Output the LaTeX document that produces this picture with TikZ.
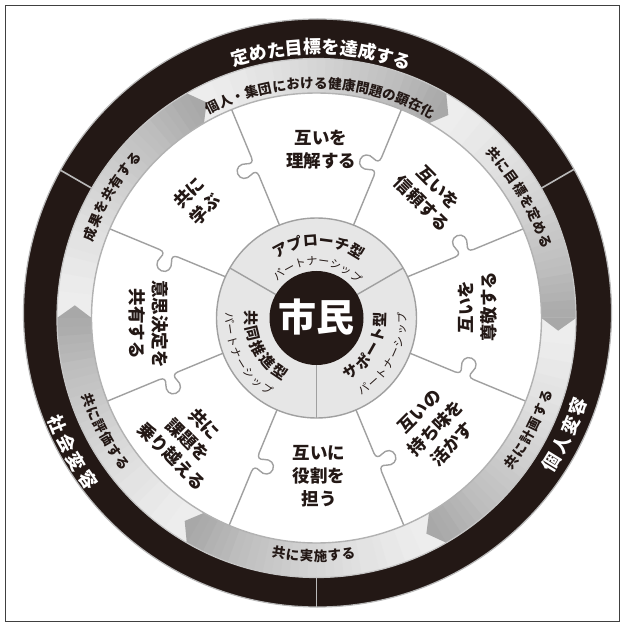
\documentclass[tikz,border=0pt]{standalone}
\usepackage{fontspec}
\setmainfont{Noto Sans CJK JP}
\definecolor{ink}{HTML}{231815}
\definecolor{divgray}{HTML}{A0A0A0}
\definecolor{diskgray}{HTML}{E6E6E6}
% characters set one by one along an arc: #1 centre angle, #2 radius of glyph centres,
% #3 advance per char, #4 number of chars, #5 style, #6 name prefix, #7 char list
\newcommand\cwchars[7]{%
  \foreach \ch [count=\j] in {#7}{%
    \pgfmathsetmacro\ang{#1-(#3/#2*180/pi)*(\j-(#4+1)/2)}%
    \node[#5,rotate=\ang-90] (#6-\j) at (\ang:#2) {\ch};}}
\newcommand\ccwchars[7]{%
  \foreach \ch [count=\j] in {#7}{%
    \pgfmathsetmacro\ang{#1+(#3/#2*180/pi)*(\j-(#4+1)/2)}%
    \node[#5,rotate=\ang+90] (#6-\j) at (\ang:#2) {\ch};}}
\newcommand\piecediv[1]{%
  \draw[divline,shift={(0,3.5)},rotate=#1] (90,0) -- (150,0) .. controls (155,0) and (156,3) .. (154,7)
    .. controls (151,13) and (154,19) .. (160,19) .. controls (166,19) and (169,13) .. (166,7)
    .. controls (164,3) and (165,0) .. (170,0) -- (232,0);}
\begin{document}
\begin{tikzpicture}[x=1pt,y=1pt,
  divline/.style={draw=divgray,line width=1.4pt,line join=round},
  piecetext/.style={font=\bfseries\fontsize{17.5}{23}\selectfont,align=center,inner sep=0pt,text=ink},
  ringchar/.style={text=white,font=\bfseries\fontsize{18}{18}\selectfont,inner sep=0pt,text height=15.8pt,text depth=2.2pt},
  bandchar/.style={text=ink,font=\bfseries\fontsize{13.5}{13.5}\selectfont,inner sep=0pt,text height=11.9pt,text depth=1.6pt},
  sectbold/.style={text=ink,font=\bfseries\fontsize{15}{15}\selectfont,inner sep=0pt,text height=13.2pt,text depth=1.8pt},
  sectreg/.style={text=ink,font=\fontsize{11}{11}\selectfont,inner sep=0pt,text height=9.7pt,text depth=1.3pt}]
\useasboundingbox (-316.5,-308) rectangle (307.5,318);
\fill[white] (-316.5,-308) rectangle (307.5,318);
\draw[black!75,line width=0.8pt] (-311.5,313) rectangle (302.5,-303);
% outer black ring
\coordinate (oc) at (1,5);
\fill[ink] (oc) circle[radius=294];
\draw[gray!55,line width=1.2pt] (oc) circle[radius=294];
\fill[white] (0,0) circle[radius=259.5];
% puzzle dividers
\foreach \a in {22.5,67.5,...,337.5} \piecediv{\a};
% arrow band slices
\foreach \k in {0,...,5}{
  \foreach \i in {0,...,29}{
    \pgfmathsetmacro\a{60*\k+60-2*\i}
    \pgfmathsetmacro\b{\a-2.15}
    \pgfmathtruncatemacro\c{7+27*((\i+0.5)/30)^1.5}
    \fill[black!\c] (\a:225) arc[start angle=\a,end angle=\b,radius=225]
      -- (\b:259.5) arc[start angle=\b,end angle=\a,radius=259.5] -- cycle;
  }
}
\foreach \k in {0,...,5}{
  \fill[black!34] (60*\k:225) -- (60*\k-3:242) -- (60*\k:259.5) -- cycle;
}
\draw[gray!45,line width=1.2pt] (0,0) circle[radius=259.5];
\draw[gray!60,line width=1.4pt] (0,0) circle[radius=225];
\begin{scope}
  \clip (oc) circle[radius=294];
  \foreach \a in {30,150,270} \draw[gray!55,line width=1.6pt] (\a:259.5) -- (\a:305);
\end{scope}
% centre disk
\fill[diskgray] (0,0) circle[radius=100];
\draw[divgray,line width=1.4pt] (0,0) circle[radius=100];
\foreach \a in {30,150,270} \draw[divline] (\a:47) -- (\a:100);
\fill[ink] (0,0) circle[radius=47];
\node[text=white,font=\bfseries\fontsize{38}{38}\selectfont,inner sep=0pt] (shimin) at (0,1) {市民};
% piece texts
\node[piecetext] (p1) at (4.5,168) {互いを\\理解する};
\node[piecetext,rotate=-45] (p2) at (113.5,122) {互いを\\信頼する};
\node[piecetext,rotate=90] (p3) at (161.5,11) {互いを\\尊敬する};
\node[piecetext,rotate=45] (p4) at (119.5,-110) {互いの\\持ち味を\\活かす};
\node[piecetext] (p5) at (2.5,-158) {互いに\\役割を\\担う};
\node[piecetext,rotate=-45] (p6) at (-128.5,-122) {共に\\課題を\\乗り越える};
\node[piecetext,rotate=-90] (p7) at (-167.5,-6) {意思決定を\\共有する};
\node[piecetext,rotate=45] (p8) at (-119.5,117) {共に\\学ぶ};
% black ring texts
\cwchars{88.9}{271}{18.3}{10}{ringchar}{ta}{定,め,た,目,標,を,達,成,す,る}
\ccwchars{-25.1}{276}{20.5}{4}{ringchar}{tb}{個,人,変,容}
\ccwchars{208.8}{280}{21}{4}{ringchar}{tc}{社,会,変,容}
% band texts
\cwchars{88.9}{235}{14}{17}{bandchar}{ba}{個,人,・,集,団,に,お,け,る,健,康,問,題,の,顕,在,化}
\cwchars{30.6}{241}{14.6}{8}{bandchar}{bb}{共,に,目,標,を,定,め,る}
\cwchars{149.3}{242}{14.6}{7}{bandchar}{bc}{成,果,を,共,有,す,る}
\ccwchars{-27.7}{242}{14.8}{6}{bandchar}{bd}{共,に,計,画,す,る}
\ccwchars{-90.7}{238}{14}{6}{bandchar}{be}{共,に,実,施,す,る}
\ccwchars{208.3}{242}{14.4}{6}{bandchar}{bf}{共,に,評,価,す,る}
% centre sector texts
\cwchars{88.5}{77.5}{16}{6}{sectbold}{ca}{ア,プ,ロ,ー,チ,型}
\cwchars{88.5}{57}{12}{8}{sectreg}{cb}{パ,ー,ト,ナ,ー,シ,ッ,プ}
\ccwchars{-29.5}{64}{15.5}{5}{sectbold}{cc}{サ,ポ,ー,ト,型}
\ccwchars{-28.1}{85.5}{12}{8}{sectreg}{cd}{パ,ー,ト,ナ,ー,シ,ッ,プ}
\ccwchars{207.7}{65.5}{16}{5}{sectbold}{ce}{共,同,推,進,型}
\ccwchars{207.6}{87}{12}{8}{sectreg}{cf}{パ,ー,ト,ナ,ー,シ,ッ,プ}
\end{tikzpicture}
\end{document}
